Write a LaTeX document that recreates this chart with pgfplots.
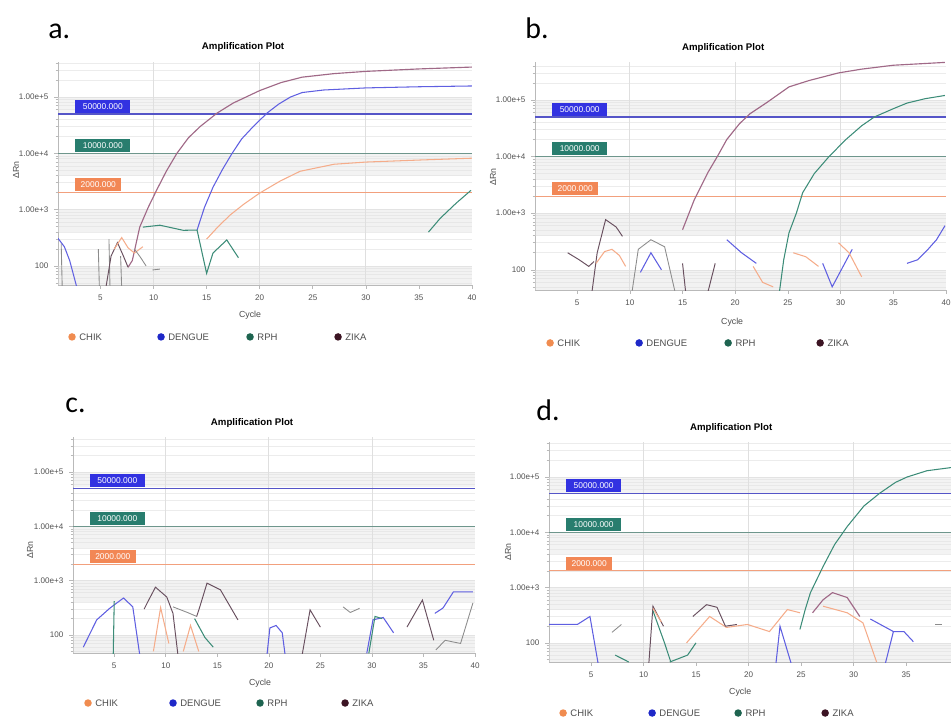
\documentclass[border=0pt]{standalone}
\usepackage{fontspec}
\setmainfont{Liberation Sans}
\newfontfamily\letterfont{Carlito}
\usepackage{pgfplots}
\pgfplotsset{compat=1.18}

\definecolor{zkC}{RGB}{160,105,135}
\definecolor{zkN}{RGB}{105,80,95}
\definecolor{dgC}{RGB}{95,95,225}
\definecolor{ckC}{RGB}{245,172,138}
\definecolor{rpC}{RGB}{60,140,120}
\definecolor{gyC}{RGB}{140,140,140}
\definecolor{thB}{RGB}{85,85,200}
\definecolor{thT}{RGB}{110,150,140}
\definecolor{thO}{RGB}{242,160,125}
\definecolor{boxB}{RGB}{50,50,225}
\definecolor{boxT}{RGB}{40,125,110}
\definecolor{boxO}{RGB}{242,135,85}
\definecolor{lgO}{RGB}{240,140,80}
\definecolor{lgB}{RGB}{30,40,200}
\definecolor{lgT}{RGB}{30,100,80}
\definecolor{lgZ}{RGB}{60,20,35}

\pgfplotsset{
  every axis/.append style={
    scale only axis,
    axis x line*=bottom, axis y line*=left,
    axis line style={-, draw=gray!55, line width=0.5pt},
    ytick={100,1000,10000,100000},
    yticklabels={100,1.00e+3,1.00e+4,1.00e+5},
    minor ytick={50,60,70,80,90,200,300,400,500,600,700,800,900,2000,3000,4000,5000,6000,7000,8000,9000,20000,30000,40000,60000,70000,80000,90000,200000,300000,400000},
    ymajorgrids=true, yminorgrids=true,
    major grid style={gray!22, line width=0.35pt},
    minor grid style={gray!15, line width=0.35pt},
    tick align=outside, major tick length=2pt, minor tick length=1.3pt,
    tick style={gray!55, line width=0.35pt},
    tick label style={font=\fontsize{4.6}{5}\selectfont, text=gray!65!black},
  },
}
\tikzset{
  thbox/.style={anchor=south west, inner sep=0pt, minimum height=0.26cm, text=white,
    font=\fontsize{4.8}{5}\selectfont, yshift=0.5pt},
  pzk/.style={zkC, line width=0.65pt},
  pzn/.style={zkN, line width=0.55pt},
  pdg/.style={dgC, line width=0.6pt},
  pck/.style={ckC, line width=0.6pt},
  prp/.style={rpC, line width=0.6pt},
  pgy/.style={gyC, line width=0.5pt},
  pvg/.style={gray!25, line width=0.4pt},
}

\newcommand{\bands}[2]{%
  \fill[gray!22, fill opacity=0.45] (axis cs:1,#1) rectangle (axis cs:40,100);
  \fill[gray!22, fill opacity=0.45] (axis cs:1,400) rectangle (axis cs:40,1000);
  \fill[gray!20, fill opacity=0.45] (axis cs:1,4000) rectangle (axis cs:40,10000);
  \fill[gray!20, fill opacity=0.45] (axis cs:1,52000) rectangle (axis cs:40,100000);
  \addplot[pvg] coordinates {(10,#1) (10,#2)};
  \addplot[pvg] coordinates {(20,#1) (20,#2)};
  \addplot[pvg] coordinates {(30,#1) (30,#2)};
}
\newcommand{\thr}{%
  \addplot[thO, line width=0.6pt] coordinates {(1,2000) (40,2000)};
  \addplot[thT, line width=0.7pt] coordinates {(1,10000) (40,10000)};
  \addplot[thB, line width=0.7pt] coordinates {(1,50000) (40,50000)};
  \node[thbox, fill=boxB, minimum width=1.1cm] at (axis cs:2.6,50000) {50000.000};
  \node[thbox, fill=boxT, minimum width=1.1cm] at (axis cs:2.6,10000) {10000.000};
  \node[thbox, fill=boxO, minimum width=0.92cm] at (axis cs:2.6,2000) {2000.000};
}
\newcommand{\leg}[5]{%
  \fill[lgO] (#2,#1) circle (0.075cm);
  \node[anchor=west, inner sep=0pt, font=\fontsize{5.4}{6}\selectfont, text=gray!60!black] at ({#2+7},#1) {CHIK};
  \fill[lgB] (#3,#1) circle (0.075cm);
  \node[anchor=west, inner sep=0pt, font=\fontsize{5.4}{6}\selectfont, text=gray!60!black] at ({#3+7},#1) {DENGUE};
  \fill[lgT] (#4,#1) circle (0.075cm);
  \node[anchor=west, inner sep=0pt, font=\fontsize{5.4}{6}\selectfont, text=gray!60!black] at ({#4+7},#1) {RPH};
  \fill[lgZ] (#5,#1) circle (0.075cm);
  \node[anchor=west, inner sep=0pt, font=\fontsize{5.4}{6}\selectfont, text=gray!60!black] at ({#5+7},#1) {ZIKA};
}

\begin{document}
\begin{tikzpicture}
\useasboundingbox (0,0) rectangle (19.02cm,14.42cm);
\clip (0,0) rectangle (19.02cm,14.42cm);

% ---------- a ----------
\begin{axis}[ymode=log, xmin=1, xmax=40, ymin=46, ymax=4.18e5, anchor=south west, at={(1.16cm,8.72cm)}, width=8.28cm, height=4.46cm,
  xtick={5,10,15,20,25,30,35,40}, xticklabels={5,10,15,20,25,30,35,40}]
\bands{46}{4.18e5}
\thr
\addplot[pzk] coordinates {(7.6,95) (8.0,125) (8.7,490) (9.5,1100) (10.3,2240) (11.2,4800) (12.2,1e4) (13.3,1.9e4) (14.4,3e4) (16,5.2e4) (17.5,7.8e4) (20,1.3e5) (22,1.8e5) (24,2.25e5) (27,2.6e5) (30,2.85e5) (35,3.15e5) (40,3.4e5)};
\addplot[pdg] coordinates {(14.1,435) (14.8,1100) (15.6,2500) (16.5,5200) (17.4,1e4) (18.3,1.8e4) (19.4,3e4) (20.7,5.2e4) (21.8,7.5e4) (22.9,1e5) (24,1.2e5) (26,1.33e5) (30,1.45e5) (35,1.52e5) (40,1.57e5)};
\addplot[pck] coordinates {(15,300) (16,480) (17.2,800) (18.5,1250) (20,1970) (21.9,3200) (23.8,4800) (27,6400) (30,7000) (35,7600) (40,8200)};
\addplot[prp] coordinates {(9,490) (10.6,530) (12.8,430) (14.1,435) (15,74) (15.6,170) (16.9,290) (18,140)};
\addplot[prp] coordinates {(35.9,400) (37,700) (38.5,1300) (39.9,2200)};
\addplot[pdg] coordinates {(1,310) (1.6,220) (2.1,125) (2.8,40)};
\addplot[pgy] coordinates {(1.3,250) (1.4,40)};
\addplot[pgy] coordinates {(4.8,200) (4.9,40)};
\addplot[pgy] coordinates {(5.8,300) (5.9,40)};
\addplot[pgy] coordinates {(6.9,150) (7.0,40)};
\addplot[pzn] coordinates {(5.5,40) (6.0,150) (6.6,260) (7.1,160) (7.6,95)};
\addplot[pck] coordinates {(6.3,200) (7.0,320) (7.6,210) (8.2,170) (9.0,220)};
\addplot[pgy] coordinates {(8.2,200) (8.8,140) (9.3,100)};
\addplot[pgy] coordinates {(9.9,85) (10.6,88)};
\end{axis}

% ---------- b ----------
\begin{axis}[ymode=log, xmin=1, xmax=40, ymin=44, ymax=4.68e5, anchor=south west, at={(10.70cm,8.62cm)}, width=8.22cm, height=4.56cm,
  xtick={5,10,15,20,25,30,35,40}, xticklabels={5,10,15,20,25,30,35,40}]
\bands{44}{4.68e5}
\thr
\addplot[pzk] coordinates {(15,510) (16.1,1700) (17.4,5200) (18.3,1e4) (19.2,2e4) (20.4,3.8e4) (21.4,5.7e4) (23,9e4) (25.1,1.7e5) (27,2.2e5) (29.8,3e5) (32,3.5e5) (35,4.1e5) (39.9,4.6e5)};
\addplot[prp] coordinates {(24.1,30) (24.6,150) (25.1,450) (25.8,1000) (26.4,2300) (27.5,5000) (28.9,1e4) (30.5,2e4) (32,3.5e4) (33.2,5e4) (35,7e4) (36.3,8.8e4) (38,1.05e5) (39.9,1.2e5)};
\addplot[pdg] coordinates {(36.3,130) (37.3,150) (38.2,220) (39.1,340) (39.9,600)};
\addplot[pzn] coordinates {(4.1,200) (5.2,150) (6.1,115) (6.6,140)};
\addplot[pzn] coordinates {(6.4,40) (6.9,200) (7.7,770) (8.7,570) (9.3,390)};
\addplot[pck] coordinates {(6.8,130) (7.6,210) (8.3,230) (9.0,180) (9.6,115)};
\addplot[pgy] coordinates {(10.2,40) (10.8,230) (12,340) (13.3,255) (14.3,40)};
\addplot[pdg] coordinates {(11,90) (12,200) (13,100)};
\addplot[pzn] coordinates {(15,130) (15.3,40)};
\addplot[pzn] coordinates {(17.4,40) (18.1,130)};
\addplot[pdg] coordinates {(19.2,340) (20.6,200) (22,130)};
\addplot[pck] coordinates {(21.7,115) (22.6,60) (23.6,50)};
\addplot[pck] coordinates {(25.5,200) (26.7,170) (27.9,115)};
\addplot[pdg] coordinates {(28.3,130) (29.2,50) (31.1,230)};
\addplot[pck] coordinates {(29.8,300) (30.8,200) (32,75)};
\end{axis}

% ---------- c ----------
\begin{axis}[ymode=log, xmin=1, xmax=40, ymin=46.7, ymax=4.4e5, anchor=south west, at={(1.46cm,1.36cm)}, width=8.04cm, height=4.32cm,
  xtick={5,10,15,20,25,30,35,40}, xticklabels={5,10,15,20,25,30,35,40}]
\bands{46.7}{4.4e5}
\thr
\addplot[pdg] coordinates {(2,60) (3.3,190) (4.6,315) (5.9,480) (6.8,330) (7.5,40)};
\addplot[prp] coordinates {(4.9,40) (5.0,420)};
\addplot[pzn] coordinates {(7.9,300) (8.2,390) (9.0,760) (10.1,500) (10.7,250) (11.2,40)};
\addplot[pgy] coordinates {(10.7,330) (12.1,260) (13.0,220)};
\addplot[pzn] coordinates {(13.0,220) (13.3,330) (14,900) (15.3,680) (17,190)};
\addplot[prp] coordinates {(12.8,200) (13.8,90) (14.6,60)};
\addplot[pck] coordinates {(8.8,50) (9.5,320) (10.3,70)};
\addplot[pck] coordinates {(11.7,50) (12.4,150) (13.2,50)};
\addplot[pdg] coordinates {(19.8,40) (20.1,135) (20.7,150) (21.3,110) (21.6,40)};
\addplot[pzn] coordinates {(23.2,40) (24,290) (25,140)};
\addplot[pgy] coordinates {(27.2,330) (27.9,260) (28.8,310)};
\addplot[pdg] coordinates {(29.5,46) (30.1,190) (31.1,210) (32.1,110)};
\addplot[prp] coordinates {(29.7,46) (30.3,220) (31.0,200)};
\addplot[pzn] coordinates {(33.4,140) (34.9,440) (36,80)};
\addplot[pdg] coordinates {(36.1,250) (36.9,315) (37.9,620) (39.8,620)};
\addplot[pgy] coordinates {(36.2,53) (37.1,80) (38.6,70) (39.8,390)};
\end{axis}

% ---------- d ----------
\begin{axis}[ymode=log, xmin=1, xmax=40, ymin=45, ymax=4.3e5, anchor=south west, at={(10.98cm,1.18cm)}, width=8.19cm, height=4.40cm,
  xtick={5,10,15,20,25,30,35}, xticklabels={5,10,15,20,25,30,35}]
\bands{45}{4.3e5}
\thr
\addplot[prp] coordinates {(24.9,175) (25.4,400) (25.9,810) (27.1,2400) (28.2,6000) (29.4,1.27e4) (31,3e4) (32.5,5.1e4) (34,8e4) (35.1,1e5) (37,1.3e5) (39.5,1.5e5)};
\addplot[pdg] coordinates {(1,215) (3.7,215) (4.9,300) (5.7,40)};
\addplot[pgy] coordinates {(7,155) (7.9,215)};
\addplot[prp] coordinates {(7.3,60) (8.6,45)};
\addplot[pzn] coordinates {(10.5,40) (10.9,460) (11.9,200)};
\addplot[pck] coordinates {(10.9,420) (11.7,240)};
\addplot[prp] coordinates {(10.9,380) (12.0,100) (12.6,45)};
\addplot[prp] coordinates {(12.5,45) (14.2,60) (15,100)};
\addplot[pck] coordinates {(14.1,100) (16.3,300) (17.9,190) (19.9,215) (22,160) (23.7,400) (24.9,350)};
\addplot[pzn] coordinates {(14.7,300) (16,490) (17,440) (17.8,200) (18.9,215)};
\addplot[pdg] coordinates {(22.6,40) (23,200) (24.1,40)};
\addplot[pzk] coordinates {(26.1,350) (27.1,600) (28,810) (29.4,660) (30.6,300)};
\addplot[pck] coordinates {(27.1,460) (29.4,350) (30.9,230) (32.2,45)};
\addplot[pdg] coordinates {(31.6,270) (33.8,160) (34.8,160) (35.7,105)};
\addplot[pdg] coordinates {(33,40) (33.8,160)};
\addplot[pgy] coordinates {(37.8,215) (38.4,215)};
\end{axis}

\begin{scope}[x=0.02cm, y=0.02cm]
\node[font=\bfseries\fontsize{5.5}{6}\selectfont] at (243,674) {Amplification Plot};
\node[font=\bfseries\fontsize{5.5}{6}\selectfont] at (723,673) {Amplification Plot};
\node[font=\bfseries\fontsize{5.5}{6}\selectfont] at (252,298) {Amplification Plot};
\node[font=\bfseries\fontsize{5.5}{6}\selectfont] at (731,293) {Amplification Plot};
\node[anchor=west, inner sep=0pt, font=\letterfont\fontsize{17}{18}\selectfont] at (48,690) {a.};
\node[anchor=west, inner sep=0pt, font=\letterfont\fontsize{17}{18}\selectfont] at (525,693) {b.};
\node[anchor=west, inner sep=0pt, font=\letterfont\fontsize{17}{18}\selectfont] at (65,316) {c.};
\node[anchor=west, inner sep=0pt, font=\letterfont\fontsize{17}{18}\selectfont] at (536,311) {d.};
\node[rotate=90, font=\fontsize{5}{6}\selectfont, text=gray!60!black] at (16,551) {ΔRn};
\node[rotate=90, font=\fontsize{5}{6}\selectfont, text=gray!60!black] at (493,544) {ΔRn};
\node[rotate=90, font=\fontsize{5}{6}\selectfont, text=gray!60!black] at (30,171) {ΔRn};
\node[rotate=90, font=\fontsize{5}{6}\selectfont, text=gray!60!black] at (508,169) {ΔRn};
\node[font=\fontsize{5}{6}\selectfont, text=gray!60!black] at (250,406) {Cycle};
\node[font=\fontsize{5}{6}\selectfont, text=gray!60!black] at (732,399) {Cycle};
\node[font=\fontsize{5}{6}\selectfont, text=gray!60!black] at (260,38) {Cycle};
\node[font=\fontsize{5}{6}\selectfont, text=gray!60!black] at (740,29) {Cycle};
\leg{384}{72}{161}{250}{338}
\leg{378}{550}{639}{728}{820}
\leg{18}{88}{173}{260}{345}
\leg{8}{563}{652}{738}{825}
\end{scope}
\end{tikzpicture}
\end{document}
